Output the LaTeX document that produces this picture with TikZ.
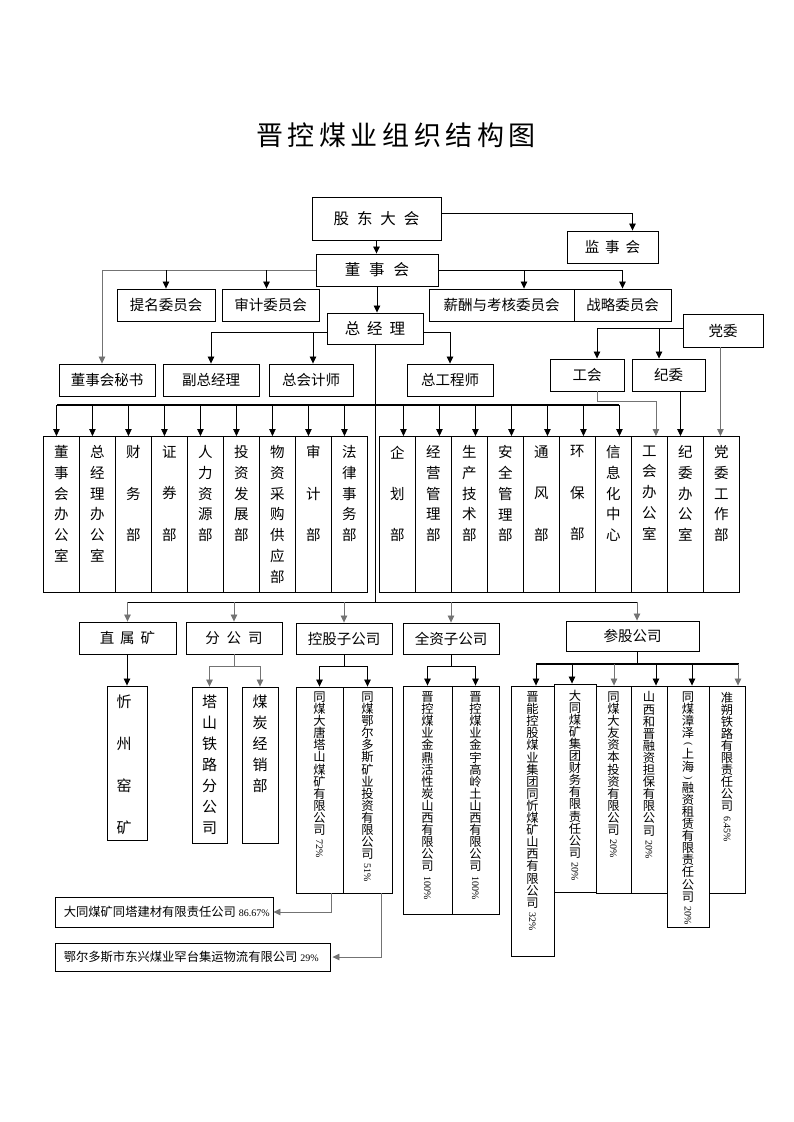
\documentclass[tikz,border=0pt]{standalone}
\usepackage{graphicx}
\usepackage{fontspec}
\setmainfont{Noto Sans CJK SC}
\newfontfamily\pct{Liberation Serif}
\usetikzlibrary{arrows.meta,calc}
\newcommand\rbox[7][]{\node[bx,#1,minimum width={#5pt-#3pt},minimum height={#6pt-#4pt}] (#2) at ({(#3+#5)/2},{(#4+#6)/2}) {#7};}
\newcommand\hs[1]{\hspace{#1pt}}
\newcommand\pc[1]{\rotatebox{-90}{\pct\fontsize{10}{10}\selectfont #1}}
\newcommand\vtfont{\fontsize{12.3}{12.1}\selectfont\lineskiplimit=-20pt\relax\lineskip=0pt\relax}
\begin{document}
\begin{tikzpicture}[x=1pt,y=-1pt,
  bx/.style={draw, line width=0.9pt, inner sep=0pt, font=\fontsize{14.5}{16}\selectfont},
  arr/.style={-{Triangle[width=6.5pt,length=7pt]}, line width=0.8pt},
  arrg/.style={arr, color=black!55},
  ln/.style={line width=0.8pt},
  lng/.style={line width=0.8pt, color=black!55},
  bus/.style={line width=2pt},
  dt/.style={font=\fontsize{14.5}{20.7}\selectfont, align=center, inner sep=0pt},
  ft/.style={font=\fontsize{15}{21}\selectfont, align=center, inner sep=0pt},
  vt/.style={font=\vtfont, align=center, inner sep=0pt}]
\fill[white] (0,0) rectangle (793,1122);
\useasboundingbox (0,0) rectangle (793,1122);

% title
\node[inner sep=0pt] (title) at (396,135) {\fontsize{27}{27}\selectfont 晋\hs{4.6}控\hs{4.6}煤\hs{4.6}业\hs{4.6}组\hs{4.6}织\hs{4.6}结\hs{4.6}构\hs{4.6}图};

% top boxes
\rbox{gd}{312}{197}{441}{240}{\fontsize{15.5}{16}\selectfont 股\hs{8}东\hs{8}大\hs{8}会}
\rbox{jsh}{567}{231}{658}{263}{监\hs{6}事\hs{6}会}
\rbox{dsh}{316}{254}{438}{286}{\fontsize{15.5}{16}\selectfont 董\hs{9}事\hs{9}会}
\rbox{tm}{117}{289}{215}{321}{提名委员会}
\rbox{sj}{222}{289}{319}{321}{审计委员会}
\rbox{xc}{429}{289}{574}{321}{薪酬与考核委员会}
\rbox{zl}{574}{289}{671}{321}{战略委员会}
\rbox{zjl}{327}{313}{423}{344}{\fontsize{15.5}{16}\selectfont 总\hs{7}经\hs{7}理}
\rbox{dw}{683}{314}{763}{347}{党委}
\rbox{ms}{59}{364}{155}{396}{董事会秘书}
\rbox{fz}{163}{364}{259}{396}{副总经理}
\rbox{zk}{269}{364}{353}{396}{总会计师}
\rbox{zg}{407}{364}{493}{396}{总工程师}
\rbox{gh}{550}{359}{624}{391}{工会}
\rbox{jw}{632}{359}{705}{391}{纪委}

% top connectors
\draw[arr] (gd.south) -- (gd.south |- dsh.north);
\draw[arr] ([yshift=5.5pt]gd.east) -| ([xshift=20pt]jsh.north);
\draw[arrg] (dsh.west) -| ([xshift=-5pt]ms.north);
\draw[arr] (tm.north |- dsh.west) -- (tm.north);
\draw[arr] ([xshift=-4pt]sj.north |- dsh.west) -- ([xshift=-4pt]sj.north);
\draw[arr] (dsh.east) -| (zl.north);
\draw[arr] ([xshift=22.5pt]xc.north |- dsh.east) -- ([xshift=22.5pt]xc.north);
\draw[arr] (dsh.south) -- (dsh.south |- zjl.north);
\draw[arr] ([yshift=-4pt]zjl.west) -| (fz.north);
\draw[arr] ([yshift=-4pt,xshift=2pt]zk.north |- zjl.west) -- ([xshift=2pt]zk.north);
\draw[arr] ([yshift=-4pt]zjl.east) -| (zg.north);
\draw[arr] ([yshift=2pt]dw.west) -| ([xshift=10pt]gh.north);
\draw[arr] ([yshift=2pt,xshift=-9.5pt]jw.north |- dw.west) -- ([xshift=-9.5pt]jw.north);

% department bus
\coordinate (busL) at (57,405);
\coordinate (busR) at (619,405);
\draw[bus] (busL) -- (busR);

\foreach \t [count=\i] in {
{董\\事\\会\\办\\公\\室},
{总\\经\\理\\办\\公\\室},
{财\\~\\务\\~\\部},
{证\\~\\券\\~\\部},
{人\\力\\资\\源\\部},
{投\\资\\发\\展\\部},
{物\\资\\采\\购\\供\\应\\部},
{审\\~\\计\\~\\部},
{法\\律\\事\\务\\部}}{
  \node[bx,minimum width=36pt,minimum height=156pt,anchor=north west] (L\i) at ({43+36*(\i-1)},436) {};
  \node[dt,anchor=north] (Lt\i) at ([yshift=-9.5pt]L\i.north) {\t};
  \draw[arr] ([xshift=-5pt]L\i.north |- busL) -- ([xshift=-5pt]L\i.north);
}

\foreach \t [count=\i] in {
{企\\~\\划\\~\\部},
{经\\营\\管\\理\\部},
{生\\产\\技\\术\\部},
{安\\全\\管\\理\\部},
{通\\~\\风\\~\\部},
{环\\~\\保\\~\\部},
{信\\息\\化\\中\\心},
{工\\会\\办\\公\\室},
{纪\\委\\办\\公\\室},
{党\\委\\工\\作\\部}}{
  \node[bx,minimum width=36pt,minimum height=156pt,anchor=north west] (R\i) at ({379+36*(\i-1)},436) {};
  \node[dt,anchor=north] (Rt\i) at ([yshift=-9.5pt]R\i.north) {\t};
  \ifnum\i<8
    \draw[arr] ([xshift=6pt]R\i.north |- busR) -- ([xshift=6pt]R\i.north);
  \fi
}
\draw[arrg] ([xshift=10pt]gh.south) -- ++(0,10) -| ([xshift=6.5pt]R8.north);
\draw[arr] ([xshift=-5pt]R9.north |- jw.south) -- ([xshift=-5pt]R9.north);
\draw[arrg] ([xshift=-1pt]R10.north |- dw.south) -- ([xshift=-1pt]R10.north);

% lower bus
\coordinate (lbL) at (128,602);
\coordinate (lbR) at (637,602);
\draw[ln] (zjl.south) -- (zjl.south |- lbL);
\draw[ln] (lbL) -- (lbR);

\rbox{zs}{79}{622}{176}{654}{直\hs{6}属\hs{6}矿}
\rbox{fgs}{186}{622}{282}{654}{分\hs{7}公\hs{7}司}
\rbox{kg}{296}{623}{392}{654}{控股子公司}
\rbox{qz}{403}{623}{499}{654}{全资子公司}
\rbox{cg}{566}{621}{699}{651}{参股公司}

\draw[arrg] (zs.north |- lbL) -- (zs.north);
\draw[arrg] (fgs.north |- lbL) -- (fgs.north);
\draw[arrg] (kg.north |- lbL) -- (kg.north);
\draw[arrg] (qz.north |- lbL) -- (qz.north);
\draw[arrg] (lbR) -- (lbR |- cg.north);

% 直属矿
\rbox{xz}{107}{686}{147}{840}{}
\node[ft,font=\fontsize{15}{42}\selectfont,anchor=north] (xzt) at ([yshift=-9pt,xshift=-3pt]xz.north) {忻\\州\\窑\\矿};
\draw[arr] (xz.north |- zs.south) -- (xz.north);

% 分公司
\rbox{ts}{192}{687}{227}{843}{}
\rbox{mt}{242}{687}{278}{843}{}
\node[ft,anchor=north] (tst) at ([yshift=-8pt]ts.north) {塔\\山\\铁\\路\\分\\公\\司};
\node[ft,anchor=north] (mtt) at ([yshift=-8pt]mt.north) {煤\\炭\\经\\销\\部};
\draw[lng] (fgs.south) -- ++(0,12) coordinate (fj);
\draw[arrg] (fj) -| (ts.north);
\draw[arrg] (fj) -| (mt.north);

% 控股子公司
\rbox{ka}{296}{687}{343}{893}{}
\rbox{kb}{343}{687}{392}{893}{}
\node[vt,anchor=north] (kat) at ([yshift=-5pt]ka.north) {同\\煤\\大\\唐\\塔\\山\\煤\\矿\\有\\限\\公\\司\\[-7pt]\pc{72\%}};
\node[vt,anchor=north] (kbt) at ([yshift=-5pt]kb.north) {同\\煤\\鄂\\尔\\多\\斯\\矿\\业\\投\\资\\有\\限\\公\\司\\[-7pt]\pc{51\%}};
\draw[ln] (kg.south) -- ++(0,12) coordinate (kj);
\draw[arr] (kj) -| (ka.north);
\draw[arr] (kj) -| (kb.north);

% 全资子公司
\rbox{qa}{403}{686}{452}{914}{}
\rbox{qb}{452}{686}{499}{914}{}
\node[vt,anchor=north] (qat) at ([yshift=-6pt]qa.north) {晋\\控\\煤\\业\\金\\鼎\\活\\性\\炭\\山\\西\\有\\限\\公\\司\\[-7pt]\pc{100\%}};
\node[vt,anchor=north] (qbt) at ([yshift=-6pt]qb.north) {晋\\控\\煤\\业\\金\\宇\\高\\岭\\土\\山\\西\\有\\限\\公\\司\\[-7pt]\pc{100\%}};
\draw[ln] (qz.south) -- ++(0,12) coordinate (qj);
\draw[arr] (qj) -| (qa.north);
\draw[arr] (qj) -| (qb.north);

% 参股公司
\rbox{ca}{511}{686}{554}{956}{}
\rbox{cb}{554}{684}{596}{892}{}
\rbox{cc}{596}{686}{631}{893}{}
\rbox{cd}{631}{686}{667}{893}{}
\rbox{ce}{667}{686}{709}{927}{}
\rbox{cf}{709}{686}{745}{893}{}
\node[vt,anchor=north] (cat) at ([yshift=-6pt]ca.north) {晋\\能\\控\\股\\煤\\业\\集\\团\\同\\忻\\煤\\矿\\山\\西\\有\\限\\公\\司\\[-7pt]\pc{32\%}};
\node[vt,anchor=north] (cbt) at ([yshift=-6pt]cb.north) {大\\同\\煤\\矿\\集\\团\\财\\务\\有\\限\\责\\任\\公\\司\\[-7pt]\pc{20\%}};
\node[vt,anchor=north] (cct) at ([yshift=-6pt]cc.north) {同\\煤\\大\\友\\资\\本\\投\\资\\有\\限\\公\\司\\[-7pt]\pc{20\%}};
\node[vt,anchor=north] (cdt) at ([yshift=-6pt]cd.north) {山\\西\\和\\晋\\融\\资\\担\\保\\有\\限\\公\\司\\[-7pt]\pc{20\%}};
\node[vt,anchor=north] (cet) at ([yshift=-6pt]ce.north) {同\\煤\\漳\\泽\\[-7pt]\pc{(}\\[4pt]上\\海\\[-7pt]\pc{)}\\[4pt]融\\资\\租\\赁\\有\\限\\责\\任\\公\\司\\[-7pt]\pc{20\%}};
\node[vt,anchor=north] (cft) at ([yshift=-6pt]cf.north) {准\\朔\\铁\\路\\有\\限\\责\\任\\公\\司\\[-7pt]\pc{6.45\%}};
\draw[ln] ([xshift=5pt]cg.south) -- ++(0,13) coordinate (cj);
\coordinate (cbL) at (536,664);
\coordinate (cbR) at (739,664);
\draw[bus] (cbL) -- (cbR);
\draw[arr] ([xshift=3.5pt]ca.north |- cbL) -- ([xshift=3.5pt]ca.north);
\draw[arr] ([xshift=-3pt]cb.north |- cbL) -- ([xshift=-3pt]cb.north);
\draw[arrg] ([xshift=0.5pt]cc.north |- cbL) -- ([xshift=0.5pt]cc.north);
\draw[arr] ([xshift=7pt]cd.north |- cbL) -- ([xshift=7pt]cd.north);
\draw[arr] ([xshift=4pt]ce.north |- cbL) -- ([xshift=4pt]ce.north);
\draw[arrg] ([xshift=11pt]cf.north |- cbL) -- ([xshift=11pt]cf.north);

% bottom boxes
\rbox{ba}{55}{897}{273}{927}{}
\rbox{bb}{55}{943}{330}{971}{}
\node[anchor=west,inner sep=0pt,font=\fontsize{12.3}{14}\selectfont] (bat) at ([xshift=9pt]ba.west) {大同煤矿同塔建材有限责任公司\hs{3}{\pct\fontsize{10}{10}\selectfont 86.67\%}};
\node[anchor=west,inner sep=0pt,font=\fontsize{12.3}{14}\selectfont] (bbt) at ([xshift=9pt]bb.west) {鄂尔多斯市东兴煤业罕台集运物流有限公司\hs{3}{\pct\fontsize{10}{10}\selectfont 29\%}};
\draw[arrg] ([xshift=12pt]ka.south) |- (ba.east);
\draw[arrg] ([xshift=14pt]kb.south) |- ([xshift=2pt]bb.east);
\end{tikzpicture}
\end{document}
